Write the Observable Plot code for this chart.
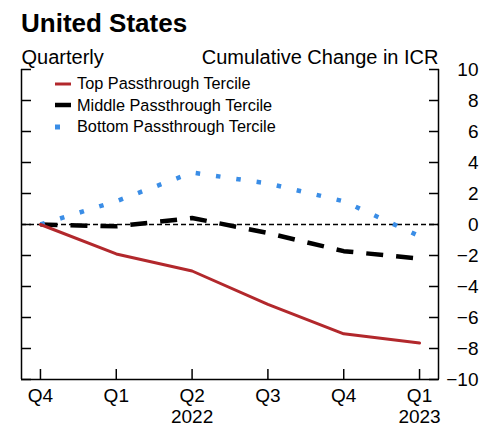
<!DOCTYPE html>
<html>
<head>
<meta charset="utf-8">
<script src="https://cdn.jsdelivr.net/npm/d3@7"></script>
<script src="https://cdn.jsdelivr.net/npm/@observablehq/plot@0.6"></script>
<style>
  body { margin: 0; background: #fff; font-family: "Liberation Sans", Arial, sans-serif; }
  #wrap { position: relative; width: 487px; height: 430px; }
  #title { font-size: 26px; font-weight: bold; line-height: 46px; height: 46px; padding-left: 21px; }
  #legend { position: absolute; left: 54px; top: 73px; font-size: 16.3px; line-height: 21.5px; }
  #legend .row { display: flex; align-items: center; height: 21.5px; }
  #legend .sw { width: 17px; margin-right: 6px; display: flex; align-items: center; }
</style>
</head>
<body>
<div id="wrap">
  <div id="title">United States</div>
  <div id="chart"></div>
  <div id="legend"></div>
</div>
<script>
// quarters: Q4 2021 .. Q1 2023
const quarters = ["Q4", "Q1", "Q2", "Q3", "Q4", "Q1"]
const years = ["", "", "2022", "", "", "2023"]
const topTercile = [0, -1.9, -3.0, -5.15, -7.05, -7.65]
const middleTercile = [0, -0.12, 0.42, -0.55, -1.72, -2.2]
const bottomTercile = [0, 1.5, 3.35, 2.65, 1.5, -0.75]
const yTicks = [10, 8, 6, 4, 2, 0, -2, -4, -6, -8, -10]

const series = [
  {name: "Top Passthrough Tercile", color: "#b2282c", width: 3, dash: null},
  {name: "Middle Passthrough Tercile", color: "#000", width: 4.5, dash: null},
  {name: "Bottom Passthrough Tercile", color: "#3a8de6", width: 5, dash: "5,20"}
]

const rows = quarters.map((q, i) => ({
  i,
  top: topTercile[i],
  middle: middleTercile[i],
  bottom: bottomTercile[i]
}))

const fmt = d3.format("")
const idx = quarters.map((d, i) => i)

let chart = Plot.plot({
  width: 487,
  height: 384,
  marginLeft: 21,
  marginRight: 49,
  marginTop: 23,
  marginBottom: 51,
  x: {type: "linear", domain: [-0.25, 5.25], axis: null},
  y: {domain: [-10, 10], axis: null},
  style: {
    fontFamily: '"Liberation Sans", Arial, sans-serif',
    color: 'black',
    background: 'white'
  },
  marks: [
    Plot.ruleY([0], {stroke: "black", strokeWidth: 1.4, strokeDasharray: "5,3"}),
    Plot.line(rows, {x: "i", y: "middle", stroke: "#000", strokeWidth: 4.5, strokeDasharray: "17,13", strokeLinecap: "butt", strokeLinejoin: "miter"}),
    Plot.line(rows, {x: "i", y: "bottom", stroke: "#3a8de6", strokeWidth: 4.5, strokeDasharray: "4.5,16", strokeLinecap: "butt"}),
    Plot.line(rows, {x: "i", y: "top", stroke: "#b2282c", strokeWidth: 3}),
    // frame: left, right, bottom
    Plot.ruleX([-0.25, 5.25], {stroke: "black", strokeWidth: 1.5}),
    Plot.ruleY([-10], {stroke: "black", strokeWidth: 1.5}),
    // inward ticks
    Plot.axisY({anchor: "left", ticks: yTicks, tickSize: 10, dx: 10, tickFormat: () => "", label: null, strokeWidth: 1.5}),
    Plot.axisY({anchor: "right", ticks: yTicks, tickSize: 10, dx: -10, tickFormat: () => "", label: null, strokeWidth: 1.5}),
    Plot.axisX({anchor: "bottom", ticks: idx, tickSize: 10, dy: -10, tickFormat: () => "", label: null, strokeWidth: 1.5}),
    // tick labels
    Plot.text(yTicks, {y: d => d, text: d => fmt(d), frameAnchor: "right", dx: 40, textAnchor: "end", fontSize: 19}),
    Plot.text(quarters, {x: (d, i) => i, text: d => d, frameAnchor: "bottom", dy: 22, lineAnchor: "bottom", fontSize: 19}),
    Plot.text(years, {x: (d, i) => i, text: d => d, frameAnchor: "bottom", dy: 43, lineAnchor: "bottom", fontSize: 19}),
    // header labels
    Plot.text(["Quarterly"], {frameAnchor: "top-left", textAnchor: "start", lineAnchor: "bottom", dy: -6, fontSize: 20}),
    Plot.text(["Cumulative Change in ICR"], {frameAnchor: "top-right", textAnchor: "end", lineAnchor: "bottom", dy: -6, fontSize: 20})
  ]
})
d3.select('#chart').append(() => chart)

// legend
const leg = d3.select('#legend')
series.forEach(s => {
  const row = leg.append('div').attr('class', 'row')
  const sw = row.append('svg').attr('class', 'sw').attr('width', 17).attr('height', 8)
  sw.append('line')
    .attr('x1', 1).attr('x2', 17).attr('y1', 4).attr('y2', 4)
    .attr('stroke', s.color)
    .attr('stroke-width', s.width)
    .attr('stroke-dasharray', s.dash)
  row.append('span').text(s.name)
})
</script>
</body>
</html>
